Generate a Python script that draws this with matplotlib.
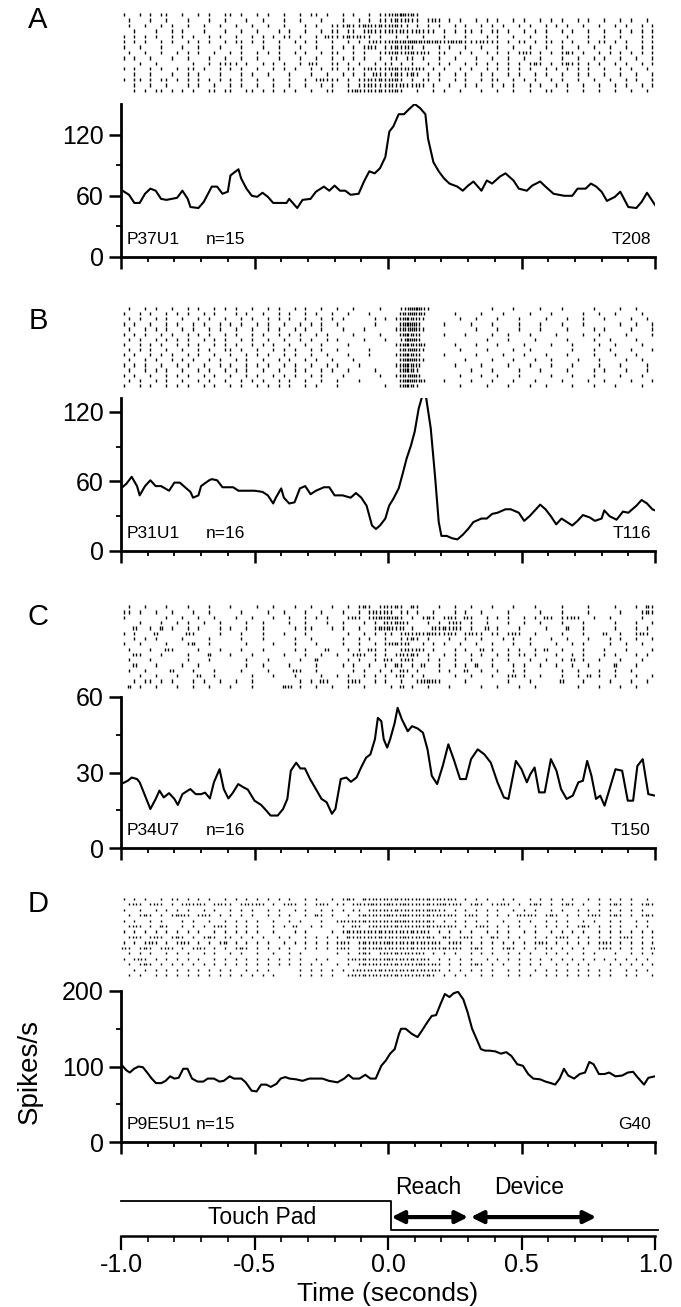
import matplotlib
matplotlib.use('Agg')
import matplotlib.pyplot as plt
from matplotlib.ticker import MultipleLocator

plt.rcParams['font.family'] = ['Liberation Sans', 'DejaVu Sans']

# ---------------- PSTH traces (time in s, rate in spikes/s) ----------------
t_a = [-1.00, -0.97, -0.95, -0.93, -0.91, -0.89, -0.87, -0.85, -0.83, -0.81,
       -0.79, -0.77, -0.75, -0.74, -0.71, -0.69, -0.66, -0.64, -0.62, -0.60,
       -0.59, -0.56, -0.55, -0.53, -0.51, -0.49, -0.47, -0.45, -0.43, -0.41,
       -0.38, -0.37, -0.34, -0.32, -0.29, -0.27, -0.24, -0.22, -0.20, -0.18,
       -0.16, -0.14, -0.11, -0.09, -0.07, -0.05, -0.03, -0.01, 0.005, 0.02,
       0.04, 0.06, 0.075, 0.10, 0.12, 0.14, 0.15, 0.17, 0.19, 0.21,
       0.23, 0.26, 0.28, 0.30, 0.32, 0.35, 0.37, 0.39, 0.42, 0.44,
       0.47, 0.49, 0.52, 0.54, 0.57, 0.59, 0.62, 0.64, 0.66, 0.69,
       0.71, 0.74, 0.76, 0.78, 0.80, 0.82, 0.85, 0.87, 0.88, 0.90,
       0.93, 0.95, 0.97, 0.99, 1.00]
rate_a = [66, 61, 53, 53, 62, 67, 65, 57, 56, 57,
          58, 65, 57, 49, 48, 54, 69, 69, 62, 64,
          80, 86, 77, 67, 60, 59, 63, 59, 53, 53,
          53, 57, 48, 56, 57, 64, 69, 65, 70, 65,
          65, 61, 62, 74, 84, 82, 87, 98, 123, 128,
          140, 140, 144, 150, 146, 140, 116, 93, 84, 77,
          72, 69, 65, 70, 74, 65, 75, 72, 79, 82,
          75, 67, 65, 70, 74, 69, 62, 61, 60, 60,
          67, 67, 72, 69, 64, 55, 59, 64, 59, 49,
          48, 54, 63, 55, 51]

t_b = [-1.00, -0.98, -0.96, -0.94, -0.93, -0.91, -0.89, -0.87, -0.85, -0.82,
       -0.80, -0.78, -0.76, -0.74, -0.73, -0.71, -0.70, -0.67, -0.66, -0.64,
       -0.62, -0.58, -0.56, -0.50, -0.47, -0.45, -0.43, -0.42, -0.40, -0.39,
       -0.37, -0.35, -0.33, -0.31, -0.29, -0.27, -0.24, -0.22, -0.20, -0.17,
       -0.14, -0.12, -0.10, -0.08, -0.06, -0.045, -0.03, -0.01, 0.004, 0.02,
       0.04, 0.053, 0.07, 0.086, 0.10, 0.115, 0.13, 0.143, 0.16, 0.176,
       0.19, 0.20, 0.22, 0.24, 0.26, 0.28, 0.30, 0.32, 0.35, 0.37,
       0.39, 0.41, 0.44, 0.46, 0.49, 0.51, 0.53, 0.55, 0.57, 0.59,
       0.61, 0.63, 0.65, 0.67, 0.69, 0.71, 0.73, 0.755, 0.775, 0.80,
       0.81, 0.83, 0.856, 0.88, 0.90, 0.93, 0.95, 0.97, 0.99, 1.00]
rate_b = [54, 58, 64, 56, 48, 56, 61, 56, 56, 52,
          59, 59, 55, 51, 46, 48, 56, 61, 62, 61,
          55, 55, 52, 52, 51, 48, 41, 46, 54, 46,
          41, 42, 54, 56, 49, 52, 55, 55, 48, 48,
          46, 50, 46, 39, 22, 19, 22, 28, 39, 45,
          54, 65, 80, 91, 103, 123, 135, 132, 106, 65,
          25, 13, 13, 11, 10, 14, 19, 25, 28, 28,
          32, 33, 36, 36, 33, 26, 30, 35, 40, 36,
          30, 23, 28, 25, 22, 26, 31, 29, 26, 28,
          35, 30, 27, 34, 33, 39, 44, 41, 36, 35]

t_c = [-1.00, -0.975, -0.96, -0.94, -0.93, -0.91, -0.89, -0.87, -0.856, -0.84,
       -0.82, -0.80, -0.787, -0.77, -0.75, -0.74, -0.72, -0.70, -0.685, -0.667,
       -0.652, -0.631, -0.615, -0.598, -0.582, -0.561, -0.541, -0.525, -0.50, -0.475,
       -0.456, -0.44, -0.413, -0.393, -0.377, -0.364, -0.344, -0.328, -0.311, -0.292,
       -0.27, -0.249, -0.23, -0.21, -0.197, -0.177, -0.156, -0.139, -0.118, -0.098,
       -0.082, -0.066, -0.049, -0.038, -0.025, -0.016, -0.003, 0.008, 0.025, 0.036,
       0.052, 0.074, 0.09, 0.111, 0.131, 0.148, 0.164, 0.184, 0.205, 0.226,
       0.246, 0.27, 0.292, 0.311, 0.336, 0.361, 0.385, 0.41, 0.434, 0.451,
       0.479, 0.50, 0.52, 0.533, 0.549, 0.566, 0.587, 0.61, 0.631, 0.648,
       0.669, 0.692, 0.713, 0.73, 0.746, 0.762, 0.779, 0.795, 0.811, 0.828,
       0.852, 0.877, 0.898, 0.918, 0.934, 0.954, 0.975, 1.00]
rate_c = [25.4, 26.7, 28.0, 27.4, 26.1, 20.8, 15.5, 19.5, 22.8, 20.1,
          21.8, 19.5, 17.1, 21.4, 22.8, 23.4, 21.4, 21.4, 22.0, 19.7,
          26.1, 31.3, 23.4, 19.7, 21.8, 25.4, 24.1, 23.2, 18.8, 17.1,
          14.9, 12.9, 12.9, 15.5, 19.5, 30.7, 33.9, 31.6, 31.6, 27.4,
          23.4, 19.5, 18.2, 13.6, 15.5, 27.4, 28.0, 26.3, 28.0, 32.6,
          35.9, 37.2, 43.2, 51.7, 50.4, 43.2, 39.9, 43.2, 49.7, 55.7,
          51.1, 46.4, 48.4, 47.5, 45.8, 39.2, 28.7, 25.4, 32.6, 41.2,
          35.3, 27.4, 27.4, 35.3, 39.2, 37.2, 33.9, 26.1, 20.1, 19.5,
          34.6, 31.3, 26.1, 29.3, 32.0, 22.1, 22.1, 35.3, 30.7, 23.4,
          19.5, 20.8, 26.1, 26.7, 34.6, 28.7, 19.5, 20.8, 16.8, 22.8,
          31.3, 30.7, 18.8, 18.8, 32.6, 35.3, 21.4, 20.8]

t_d = [-1.00, -0.98, -0.967, -0.951, -0.934, -0.918, -0.902, -0.885, -0.869, -0.849,
       -0.833, -0.816, -0.80, -0.784, -0.767, -0.751, -0.734, -0.713, -0.692, -0.675,
       -0.652, -0.631, -0.615, -0.593, -0.577, -0.549, -0.533, -0.511, -0.492, -0.475,
       -0.456, -0.439, -0.418, -0.402, -0.385, -0.369, -0.344, -0.32, -0.295, -0.246,
       -0.221, -0.189, -0.164, -0.148, -0.131, -0.107, -0.085, -0.066, -0.046, -0.025,
       -0.008, 0.008, 0.025, 0.041, 0.049, 0.066, 0.09, 0.111, 0.128, 0.148,
       0.164, 0.18, 0.197, 0.213, 0.23, 0.246, 0.262, 0.282, 0.298, 0.315,
       0.331, 0.348, 0.364, 0.38, 0.402, 0.423, 0.443, 0.462, 0.484, 0.505,
       0.525, 0.544, 0.57, 0.59, 0.61, 0.626, 0.643, 0.659, 0.675, 0.697,
       0.718, 0.738, 0.754, 0.77, 0.79, 0.811, 0.828, 0.852, 0.877, 0.898,
       0.918, 0.934, 0.959, 0.975, 1.00]
rate_d = [103, 95, 92, 97, 100, 99, 92, 84, 78, 78,
          81, 87, 84, 85, 97, 97, 84, 80, 80, 84,
          84, 80, 81, 87, 84, 84, 79, 68, 67, 76,
          76, 73, 77, 84, 86, 84, 83, 81, 84, 84,
          81, 79, 84, 89, 84, 84, 89, 84, 84, 101,
          108, 117, 123, 143, 150, 150, 143, 139, 148, 159,
          167, 168, 183, 196, 192, 197, 199, 189, 172, 150,
          137, 123, 121, 121, 120, 117, 119, 114, 103, 101,
          90, 84, 83, 80, 78, 76, 84, 97, 88, 84,
          90, 92, 106, 103, 90, 90, 92, 87, 88, 92,
          93, 86, 76, 85, 87]

# ---------------- rasters: one string per trial, 20 ms bins from -1 to 1 s ----
# '.' no spike, '|' one spike, ':' two spikes, '#' three spikes
raster_a = [
    "|..|.|.||." ".|..|.|..|" "|.|..|.|.." "|..|.||.|." ".|.|..|.||" "::#::|...." ".........." ".........." ".........." "..........",
    ".|...|..|." "..|...|..|" "...|..|..." "|..|...|.." ".|..|.|.||" "|:|:||.|:|" ".|.|..|.|." "|..|.|..|." "|.|..|.|.." "|..|.|..|.",
    ".|..|..|.|" "..|..|..|." ".|..|..|.." "|...|.|..|" "||:||::|:|" "::||.|.|.|" "..|.|..|.|" ".|..|.|..|" ".|.|..|..|" "..|.|..|.|",
    "..|...|..|" ".|...|...|" "..|..|...|" ".|..|..|.|" "|.||.|:|||" ":|:||:|||." "|.|.||.|.|" "|.|..|.|.|" "..|.|..|.." "|..|.|.|.|",
    "|.|.|.|..|" ".|.|..|.|." ".|..|.|.|." "||.|..|.:|" "||:|:||.|." ".|.|..|..." "|...|...|." "|..|..|..|" "...|...|.." "|..|...|.|",
    "|.|.|..|.|" "..|.|.|..|" ".||.|.|..|" "..|.|.|..|" "..|.|.|:||" "::::#:::::" "|:::|||:||" "|.|.||.|.|" "|.|.|..|.|" "|.|.|..|.|",
    "|..|...|.." ".|..|...|." "..|...|..|" "...|..|..|" ".|.|.|:|.|" "|:|:|.|..|" ".|..|..|.." "|..|..|..|" "..|..|..|." ".|..|..|.|",
    ".|..|..|.." "|.|.|..|.." "|.|..|.|.|" "..|.|..|.|" "|..|.|..||" "::|::|:|.|" "|..|.|..|." "|.|.|:|.|." "|.|:|.|..|" ".|.|.|.|.|",
    "|.|..|...|" "..|...|..|" "..|..|...|" "...|..|..|" ".|.|.|..|." "||.||.|..|" "..|...|..|" "..|..|..|." "..|..|..|." "|..|..|..|",
    "...|..|..." "...|..|.||" "||.|..|.|." "|..|.:|..|" "|.|.|..|.|" "|.|.|..|.|" ".|..|.|.|." "|.|.|.|:|." "|.|:||.|.|" "..|.|..|.|",
    "|.|..|.|.." "|.||.|..|." "|.|..|..|." "|.|..|.|.|" "|.||.|:|||" "::|:|:|.|." "|..|.|..|." "|.|.|.|..|" ".|.|.|.|.." "|..|.|..|.",
    "..|..|...|" "..|.|...|." "..|.|..|.." ".|...|..|." ".|.|.|.:||" "|:||:|.|.|" "..|.|..|.|" "..|.|..|.|" "..|..|.|.." "|..|..|..|",
    "|.||.|.||." "|.|.|.|.|." "|.|..|..|." ".|..|.|:||" "|.|.||:|:|" "::|.|.||.|" "..|.|..|.|" "|..|.|.|.." "|.|..|..|." ".|..|.|..|",
    "..|..|..|." "..|.|..|.." "|.|..|..|." ".|..|..|.|" "..|.||:|||" ":|:||:|.|." ".|..|.|..|" ".|.|..|.|." ".|.|..|..|" "..|.|..|.|",
    "..|.|.||.|" ".|.|..||.|" "|..||.|.|." "|.|..|..||" "..|::|:|:|" "::|..|..|." "|..|...|.." "|..|..|..|" "|..|..|..|" "..|..|..|.",
]

raster_b = [
    ".|..|.|..|" "..|.|..|.|" ".|..|..|.|" "..|.|..|.." "|..|....|." "..|:##:|.." ".........|" "...|....|." "..|.....|." "...|..|...",
    "|..|.|..|." "|.|..|.|.." ".|.|..|..|" ".|..|.|..|" "..|...|..." "..::#::..." "..|....|.." ".|....|..." "|.....|..|" "..|....|..",
    ".|.|..|.|." ".|..|.|..|" "..|.|..|.|" ".|..|..|.|" ".|.....|.|" ".|:#::|..." "...|..|..." "|...|....|" "...|..|..." "|....|..|.",
    "|.|..|..|." "|..|.|..|." "|.|..|.|.." "|..|.|.|.." "|......|.." "..:##:...." "|....|...|" "....|...|." "..|...|..." "...|..|..|",
    ".|..|.|.|." ".|.|..|.|." ".|..|..|.|" "..|.|..|.." ".|...|...." ".|::#:|..." "......|..." "|...|...|." "...|....|." "|....|...|",
    "|.|.|..|.|" "..|.|.|..|" ".|..|.|..|" ".|.|..|.|." "...|....|." "..:#::...." "|...|....|" "..|...|..." ".|....|..|" "....|....|",
    ".|.|..|.|." "|.|..|.|.|" "..|.|..|.." "|..|.|..|." "|....|...|" "..|##:...." "........|." "..|....|.." "...|....|." ".|....|...",
    "|..|.|.|.." "|.|.|..|.|" ".|..|.|.|." ".|..|..|.." "..|......." ".|:#:::..." "..|...|..." "|....|...." "|...|....|" "..|....|..",
    ".|.|.|..|." ".|..|.|..|" "|.|..|..|." "|.|..|.|.." "|.....|..." "..::#:|..." "...|....|." "...|..|..." "....|...|." ".|...|...|",
    "|.|..|.|.|" "..|.|..|.." "|..|.|.|.." "|.|..|..|." "..|...|..." ".|:#::...." "|.....|..." ".|...|...|" "...|....|." "..|...|...",
    ".|..|.|..|" ".|.|..|.|." ".|.|..|..|" ".|..|.|..|" "...|......" "..:##:|..." "....|....|" "...|...|.." "|....|...|" "....|..|..",
    "|.|.|..|.." "|.|..|..|." "|..|.|.|.." "|.|..|..|." "|...|....." ".|:#::...." "..|....|.." "..|...|..." "|...|....|" "...|....|.",
    ".|..|.|.|." ".|..|.|..|" ".|.|..|..|" "..|.|..|.|" "..|....|.." "..:#:|...." ".....|...|" "....|...|." "...|....|." "|...|...|.",
    "|.|..|..|." "|.|..|.|.." "|..|.|..|." "|.|..|.|.." ".|......|." ".|::#:...." "...|...|.." "|...|....." "|...|...|." "...|...|..",
    ".|.|..|.|." ".|..|.|..|" "..|.|.|..|" ".|..|..|.." "|...|....." "..:##::..." "|....|...|" "...|...|.." "..|....|.." "|....|...|",
    "|..|.|..|." "|.|..|.|.." "|.|..|.|.|" ".|..|.|..." "|........|" "..:#:|...." "...|....|." "..|...|..|" "....|...|." "..|....|..",
]

raster_c = [
    ".|..|...|." "..|...|..." "|....|..|." "..|..|...|" "..|.|:|.|:" "|:|.:|...|" "..|..|...|" "...|...|.." "..|....|.." "..|...|.:|",
    "||.|..|..|" "...|..|..." "..|....|.." "|...|..|.." ".|..|.|:|:" "|.||.|..|." "..|.|..|.." "..|.....|." "..|....|.." "...|...|:|",
    "|.......|." ".|..|..|.." ".|..|...|." ".|..|.|.|." "..|:|.|:::" "::|.|.|:|." "|:|.:|..|." "|.|..|.|.:" "|.||:|..|." ".|.....|..",
    "...|...|.." "|.|..|..|." "...|..|..." ".|..|...|." ".|...|.|.:" "|::|...|.|" ".|:|.|..|." "..|..|..|." "..|...|..." "..|...|..|",
    "..:..|.:.|" "..|.|...|." "|..|..|..." "..|.||...|" ".|..|..|::" ":|:.|...:|" ":|:|.|..:." "|...|....|" "...:..|..." "..|...|.|.",
    "|.|...:..." "..:|....|." "..|...|..." "|...|....." "..|..|.|.|" "|.|:|:|::|" "|:|.|:||.|" "|.|:|..|.." "..|...|..." ":..|..|:|.",
    "..|.|.|..." ".|....|..." "..|...|..." "..|..|...." ".|..|.|..|" "..||:|.|.." ".|..|..|.." ".|.|..|..." "|..|...|.." ".|.|..|..|",
    "|..|....|." "..|:..|..." "...|....|." "..|...|..." ".|..|..|.|" "::|:..|.|." "|..|..|..|" "...|..|..." ".|..|.|..." ".|..|..|..",
    ".|...|..:|" "....|...|." "..|...|..." "..|.|...:." "..|.|.:|.|" "..|:|:|.|." "..|.|..:.|" "..|.|..|.:" "..|...|..." "|...|....|",
    "..:|...|.." "..|...:..." "|...|....." "|...|..|.." "|..|:|.|.|" ".|:|:|.|.." "|.|..|.|.." "|.|.||.|.." ".|..|.|..." "|.|...|.|.",
    ".|...|...." "..|...|..." "...|...|.." "...|..:..." "..|.|..|.:" "|.|:|..|.|" "..|..|...|" "..|...|..|" "..|.:.|..|" "...|...|..",
    "..:...|..." ".|..|....." "...|..|..." ".|....|..." ".|.|..|..|" ".:|.|.:..|" "..|.|.:..|" "...|.|..|." ".|..|..|.." "..:...|...",
    ".|..|....:" "...|...|.." "..|....|.." "..:|..|..." "...|.|..|." "|.:|.|...|" ".|..:..|.." "|..|.|...." "..|..|...|" "..|..|....",
    "...|..|..." "|...:..|.." "....|...|." "..|....|.." "|.|..|.|.|" ".|:.|.|..." "..|..|...|" "..|:.|..|." "..|..|.:.|" "..|...|..|",
    "..|.||.|.|" "...|.|..|." ".|..|....." "...|.|.:|." "..|:|..|.|" "..|..|:::|" "....|....." "..|...|..." "..:...|..." ".|...|..|.",
    ".:.|..|..." "|..|..|..." "|...|....." "::.|..|..|" "..|..|...." "|.:.|..|.." ".|.....|.." "|...|..|.." ".....|...|" "...|..|...",
]

raster_d = [
    "|.|.|..|.|" "|.|.|.|..|" ".|.|.|.|.|" ".|..|.|..|" ".|:|.:|:|:" "|:|:|:|:|:" "|:|.|.|.|." ".|.|..|.|." "|.|.|..|.|" ".|.|.|..|.",
    ".|:|.|:|.|" ".|:|:|.|:|" "|.|:|:|.|." "|:|.|.|:|." "||.|:|::|:" ":|::|:|:|:" ":|:|.|:|.|" "|:|.|.|:|." "|.|:|.|..|" ".|:|.|.|:|",
    "|..|..|.|." "|.|..|.|.." "|.|.|..|.|" "..|.|..|.|" ".|.||.|:|:" "|:|:|:|::|" "|.|.|.|.|." "|..|.|.|.." "|.|..|.|.|" ".|.|.|.|..",
    ".|.|:|.|.|" "::|.|:|.|." "|.|.|..|.|" ".|..|.:|.|" "..|.|:|:|:" ":|::|:|:|:" "|:|.|:|.|." "|.|.:|:|.|" ":|.|.|.|:|" ".|:|.|.|:|",
    "|.|..|.|.." ".|.|..|..|" ".|.|.|..|." ".|.|...|.." "|:|:|:|:|:" "|:::|:|:|." "|.|.|.|.|." ".|..|.|..|" ".|.|..|.|." ".|.|..|.|.",
    ".|:|.|.:|." ".|.|.|.|:|" ".|.|.|..|." "|.:..|.|.." ".|.:|.|:|:" "|:|:|:|:|:" "|:|.|.|:|." "|.|.|..|.|" ".|.|.|:|.|" ".|.|..|.|.",
    "|.|.|.|.|." "|.|.|..|.|" ".|.|.|..|." "..|.|....|" ".|:|:|:|:|" ":|:|:|:|.|" ".|.|.|..|." "|.|..|.|.." "|.|.|.|..|" ".|.|.|.|.|",
    ".|:|.|:|.|" ":|.|.|:|.|" "|.|.|.|..|" ".|..|.|.|." "|.:|:|:|:|" ":|::|:|:|." ":|.|:|.|.:" "|.|.|..|.|" ".|:|.|.|.|" ".|.|:|.|.|",
    "|.|.|:|.|." "|:|.|.|.|:" ".|.|.|.|.." "|.|.|.|.|." "|:|.|:|:|:" ":|:|:|:|:|" ".|:|.|.|.|" ".|.|.|.|:|" ".|.|.|.|.|" ":|.|.|.|.|",
    ":|.|:|.|:|" ".|.|:|.|.|" ".|:|.|.|.|" ".|..|.|.|." "|:|.|:|::|" ":|:|:|:|:|" ":|:|.|:|.|" ".|:|.|.|.|" "|.|.|.|..|" ":|.|.|.|.:",
    ".|.|.|..|." "|.|..|.|.." "|.|..|..|." ".|.|......" "|.|.|:|.|:" "|:|:|:|.|." "|.|..|.|.|" "..|.|.|..|" ".|.|..|.|." "..|..|.|.|",
    "|.|:|.|.|." "|.|.|..|.|" ".|.|.|.|.|" ".|.|..|.|." "..|:|:|:|:" ":|:|:|:|.|" ".|.|.|..|." "|.|.|.|.|." "|.|.|.|.|." "|.|.|.|.|.",
    ".|.|:|.|.|" ".|.|.|.|.|" ".|.|.|.|.|" ".|.|.|.|.." "|.|.|:|:|:" "|:|:|::|:|" ".|.|.|:|.|" ".|..|.|.|." ".|.|.|.|.." ".|.|.|.|.|",
    "..|.|.|.|." "|.|.|.|.|." "|..|.|.|.." "...|.|.|.|" ".|.|:|:|:|" ":|:|:|:|:|" ".|.|.|.|.|" "..|.|..|.|" ".|.|.|.|.|" ".|..|.|.|.",
    ".|.|..|.|." "|.|.|.|.|." "|.|.|.|.|." "...|.|.|.|" "..|:|:|:|:" "|:|:|:|:|." "|.|.|..|.|" "..|.|.|..|" ".|.|.|.|.|" ".|..|.|..|",
]

# ---------------- labels and event markers ----------------
panel_letters = ['A', 'B', 'C', 'D']
unit_names = ['P37U1', 'P31U1', 'P34U7', 'P9E5U1']
trial_counts = ['n=15', 'n=16', 'n=16', 'n=15']
site_names = ['T208', 'T116', 'T150', 'G40']
y_tops = [150, 132, 60, 200]
y_major = [[0, 60, 120], [0, 60, 120], [0, 30, 60], [0, 100, 200]]
y_minor = [[30, 90], [30, 90], [15, 45], [50, 150]]
count_x = [0.158, 0.158, 0.158, 0.14]

pad_release = 0.013
reach_span = (0.013, 0.30)
device_span = (0.31, 0.78)
x_labels = ['-1.0', '-0.5', '0.0', '0.5', '1.0']
x_major = [-1.0, -0.5, 0.0, 0.5, 1.0]


def row_spikes(row):
    # place the counted spikes evenly inside each 20 ms bin
    w = 2.0 / len(row)
    out = []
    for i, ch in enumerate(row):
        start = -1.0 + i * w
        k = {'|': 1, ':': 2, '#': 3}.get(ch, 0)
        for j in range(k):
            out.append(start + w * (j + 0.5) / k)
    return out


def draw_raster(ax, rows, tick_h):
    n = len(rows)
    for i, row in enumerate(rows):
        y = n - i - 0.5
        xs = row_spikes(row)
        ax.vlines(xs, y - tick_h / 2, y + tick_h / 2, color='black', lw=1.0)
    ax.set_xlim(-1, 1)
    ax.set_ylim(0, n)
    ax.axis('off')


def draw_psth(ax, t, r, k):
    ax.plot(t, r, color='black', lw=1.5, solid_joinstyle='round')
    ax.set_xlim(-1, 1)
    ax.set_ylim(0, y_tops[k])
    for s in ['top', 'right']:
        ax.spines[s].set_visible(False)
    for s in ['left', 'bottom']:
        ax.spines[s].set_linewidth(2.0)
    ax.set_xticks(x_major)
    ax.set_xticklabels([])
    ax.xaxis.set_minor_locator(MultipleLocator(0.1))
    ax.set_yticks(y_major[k])
    ax.set_yticks(y_minor[k], minor=True)
    ax.tick_params(axis='both', which='major', direction='out', length=8.5, width=1.8,
                   labelsize=18, pad=4)
    ax.tick_params(axis='both', which='minor', direction='out', length=3.8, width=1.3)
    ax.text(0.011, 0.117, unit_names[k], transform=ax.transAxes, fontsize=12.5,
            ha='left', va='center')
    ax.text(count_x[k], 0.117, trial_counts[k], transform=ax.transAxes, fontsize=12.5,
            ha='left', va='center')
    ax.text(0.992, 0.117, site_names[k], transform=ax.transAxes, fontsize=12.5,
            ha='right', va='center')


fig = plt.figure(figsize=(6.81, 13.07), dpi=100)
H = 1307.0
W = 681.0
left = 121 / W
width = 534 / W

# pixel positions (top, bottom) of raster and histogram for each panel
raster_px = [(12, 93), (306, 388), (604, 689), (896, 978)]
psth_px = [(104, 257), (398, 551), (697, 848), (991, 1142)]
letter_px = [20, 321, 617, 904]
rasters = [raster_a, raster_b, raster_c, raster_d]
traces = [(t_a, rate_a), (t_b, rate_b), (t_c, rate_c), (t_d, rate_d)]
tick_heights = [0.62, 0.62, 0.62, 0.38]

for k in range(4):
    top, bot = raster_px[k]
    axr = fig.add_axes([left, 1 - bot / H, width, (bot - top) / H])
    draw_raster(axr, rasters[k], tick_heights[k])
    top, bot = psth_px[k]
    axp = fig.add_axes([left, 1 - bot / H, width, (bot - top) / H])
    draw_psth(axp, traces[k][0], traces[k][1], k)
    fig.text(38 / W, 1 - letter_px[k] / H, panel_letters[k], fontsize=21,
             ha='center', va='center')

fig.text(30 / W, 1 - 1072 / H, 'Spikes/s', rotation=90, fontsize=20,
         ha='center', va='center')

# ---------------- behavioural event timeline with time axis ----------------
axt = fig.add_axes([left, 1 - 1236 / H, width, 61 / H])
axt.set_xlim(-1, 1)
axt.set_ylim(0, 1)
axt.plot([-1.0, pad_release, pad_release, 1.01], [0.574, 0.574, 0.098, 0.098],
         color='black', lw=1.3, clip_on=False)
for span in [reach_span, device_span]:
    axt.annotate('', xy=(span[1], 0.31), xytext=(span[0], 0.31),
                 arrowprops=dict(arrowstyle='<|-|>', color='black', lw=3.0,
                                 mutation_scale=18, shrinkA=0, shrinkB=0))
axt.text(0.152, 0.80, 'Reach', fontsize=16.5, ha='center', va='center')
axt.text(0.53, 0.80, 'Device', fontsize=16.5, ha='center', va='center')
axt.text(-0.47, 0.31, 'Touch Pad', fontsize=16.5, ha='center', va='center')
for s in ['top', 'right', 'left']:
    axt.spines[s].set_visible(False)
axt.spines['bottom'].set_linewidth(1.8)
axt.set_yticks([])
axt.set_xticks(x_major)
axt.set_xticklabels(x_labels)
axt.xaxis.set_minor_locator(MultipleLocator(0.1))
axt.tick_params(axis='x', which='major', direction='out', length=10, width=1.6,
                labelsize=18, pad=2)
axt.tick_params(axis='x', which='minor', direction='out', length=4.5, width=1.2)
fig.text((121 + 267) / W, 1 - 1301 / H, 'Time (seconds)', fontsize=19,
         ha='center', va='baseline')

fig.savefig('out.png', dpi=100)
